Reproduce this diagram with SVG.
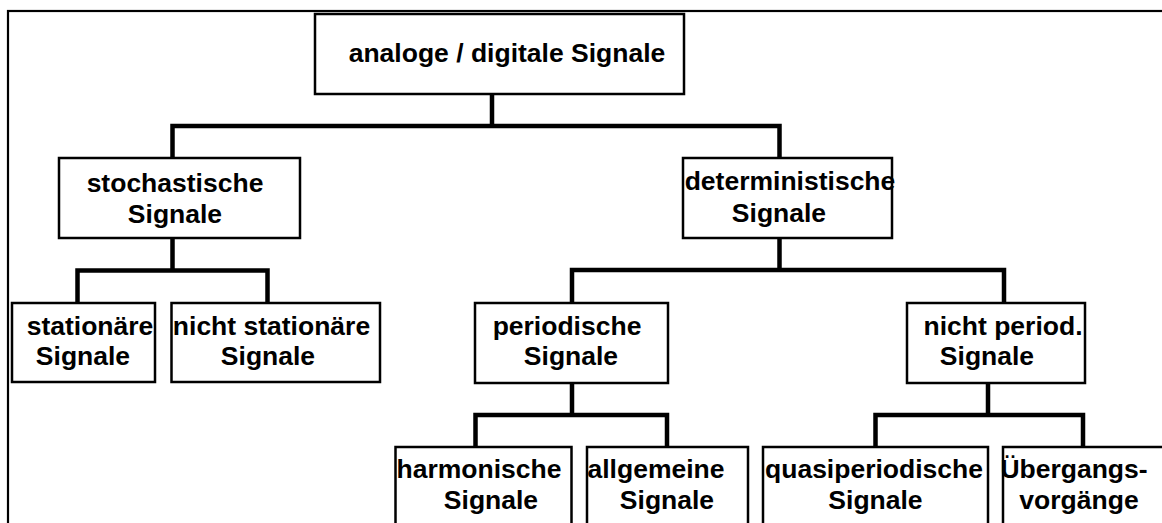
<svg xmlns="http://www.w3.org/2000/svg" width="1162" height="523" viewBox="0 0 1162 523">
<style>
.box{fill:#fff;stroke:#000;stroke-width:2.5}
.con{fill:none;stroke:#000;stroke-width:4.5;stroke-linejoin:miter}
text{font-family:"Liberation Sans",Arial,sans-serif;font-weight:bold;font-size:26.5px;fill:#000;text-anchor:middle}
</style>
<rect width="1162" height="523" fill="#fff"/>
<rect x="8" y="11" width="1170" height="530" fill="none" stroke="#000" stroke-width="2.2"/>
<g id="connectors">
<path class="con" d="M492,94 V126 M172.5,158 V126 H779.5 V158"/>
<path class="con" d="M172.5,238 V270.5 M77.5,303 V270.5 H267.5 V303"/>
<path class="con" d="M779.5,238 V270 M572,303 V270 H1004 V303"/>
<path class="con" d="M572,383 V415 M475.5,447 V415 H667 V447"/>
<path class="con" d="M988,383 V415 M875.5,447 V415 H1083 V447"/>
</g>
<g id="n-root">
<rect class="box" x="315" y="14" width="369" height="80"/>
<text x="507" y="62">analoge / digitale Signale</text>
</g>
<g id="n-stoch">
<rect class="box" x="59" y="158" width="241" height="80"/>
<text x="175" y="192">stochastische</text>
<text x="175" y="223">Signale</text>
</g>
<g id="n-det">
<rect class="box" x="683" y="158" width="209" height="80"/>
<text x="790" y="190">deterministische</text>
<text x="779" y="222">Signale</text>
</g>
<g id="n-stat">
<rect class="box" x="12" y="303" width="143" height="79"/>
<text x="90" y="335">stationäre</text>
<text x="83" y="365">Signale</text>
</g>
<g id="n-nstat">
<rect class="box" x="171.5" y="303" width="208.5" height="79"/>
<text x="271.5" y="335">nicht stationäre</text>
<text x="268" y="365">Signale</text>
</g>
<g id="n-per">
<rect class="box" x="475" y="303" width="193" height="80"/>
<text x="567" y="335">periodische</text>
<text x="571" y="365">Signale</text>
</g>
<g id="n-nper">
<rect class="box" x="907" y="303" width="178" height="80"/>
<text x="1003" y="335">nicht period.</text>
<text x="987" y="365">Signale</text>
</g>
<g id="n-harm">
<rect class="box" x="395.5" y="447" width="176" height="90"/>
<text x="479" y="478">harmonische</text>
<text x="491" y="509">Signale</text>
</g>
<g id="n-allg">
<rect class="box" x="587" y="447" width="161" height="90"/>
<text x="656" y="478">allgemeine</text>
<text x="667" y="509">Signale</text>
</g>
<g id="n-quasi">
<rect class="box" x="763" y="447" width="225" height="90"/>
<text x="874" y="478">quasiperiodische</text>
<text x="875.5" y="509">Signale</text>
</g>
<g id="n-ueb">
<rect class="box" x="1003" y="447" width="170" height="90"/>
<text x="1074" y="478">Übergangs-</text>
<text x="1079" y="509">vorgänge</text>
</g>
</svg>
